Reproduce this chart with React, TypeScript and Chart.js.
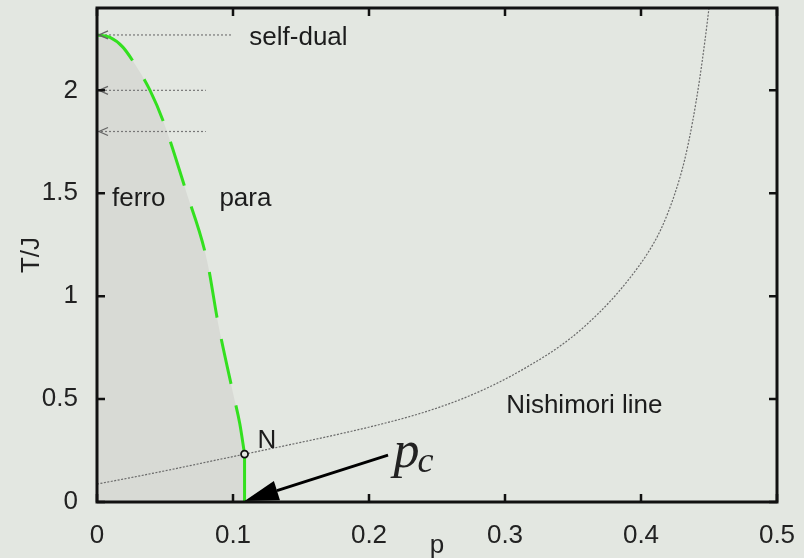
import React, { useEffect, useRef } from "react";
import { Chart, registerables } from "chart.js";

Chart.register(...registerables);

// ---- data ----
const xTicks = [0, 0.1, 0.2, 0.3, 0.4, 0.5];
const yTicks = [0, 0.5, 1, 1.5, 2];

// ferro/para phase boundary
const boundaryP = [0, 0.0096, 0.019, 0.027, 0.039, 0.049, 0.065, 0.081, 0.089, 0.1, 0.105, 0.1085];
const boundaryT = [2.269, 2.257, 2.21, 2.136, 2.0, 1.845, 1.52, 1.17, 0.87, 0.53, 0.38, 0.233];
// vertical part below the Nishimori point
const verticalP = [0.1085, 0.1085];
const verticalT = [0.233, 0];

// Nishimori line
const nishP = [0, 0.03, 0.06, 0.085, 0.109, 0.15, 0.18, 0.21, 0.24, 0.268, 0.292, 0.316, 0.341, 0.358, 0.378, 0.392, 0.405, 0.415, 0.425, 0.432, 0.438, 0.443, 0.447, 0.45];
const nishT = [0.087, 0.125, 0.165, 0.2, 0.233, 0.29, 0.333, 0.38, 0.435, 0.5, 0.57, 0.655, 0.76, 0.85, 0.98, 1.09, 1.21, 1.33, 1.5, 1.66, 1.85, 2.05, 2.24, 2.4];

// self-dual arrows (horizontal dotted lines with arrowheads at p = 0)
const arrowLevels = [2.269, 2.0, 1.8];
const arrowEnds = [0.1, 0.08, 0.08];

// Nishimori point N
const nPointP = [0.1085];
const nPointT = [0.233];

// text labels
const labelTexts = ["ferro", "para", "self-dual", "N", "Nishimori line"];
const labelP = [0.011, 0.09, 0.112, 0.118, 0.301];
const labelT = [1.44, 1.44, 2.218, 0.262, 0.43];

// p_c arrow (tail -> tip) and label
const pcArrowP = [0.214, 0.1085];
const pcArrowT = [0.228, 0.005];
const pcLabelP = 0.218;
const pcLabelT = 0.17;

const BG = "#e3e7e1";
const FILL = "#d8dad5";
const GREEN = "#33e01f";
const INK = "#1c1c1c";
const FONT = "'Liberation Sans', Arial, sans-serif";

const pts = (xs: number[], ys: number[]) => xs.map((x, i) => ({ x, y: ys[i] }));

const decorPlugin = {
  id: "decor",
  beforeDraw(chart: any) {
    const { ctx, width, height } = chart;
    ctx.save();
    ctx.fillStyle = BG;
    ctx.fillRect(0, 0, width, height);
    ctx.restore();
  },
  afterDatasetsDraw(chart: any) {
    const { ctx, chartArea: a, scales } = chart;
    const xs = scales.x;
    const ys = scales.y;
    ctx.save();

    // self-dual arrowheads (open chevrons)
    ctx.strokeStyle = "#666";
    ctx.lineWidth = 1.3;
    arrowLevels.forEach((lv) => {
      const x0 = xs.getPixelForValue(0);
      const y0 = ys.getPixelForValue(lv);
      ctx.beginPath();
      ctx.moveTo(x0 + 11, y0 - 4);
      ctx.lineTo(x0 + 2, y0);
      ctx.lineTo(x0 + 11, y0 + 4);
      ctx.stroke();
    });

    // p_c arrow
    const tx = xs.getPixelForValue(pcArrowP[0]);
    const ty = ys.getPixelForValue(pcArrowT[0]);
    const hx = xs.getPixelForValue(pcArrowP[1]);
    const hy = ys.getPixelForValue(pcArrowT[1]);
    const ang = Math.atan2(hy - ty, hx - tx);
    const headLen = 34;
    const headHalf = 10;
    const bx = hx - headLen * Math.cos(ang);
    const by = hy - headLen * Math.sin(ang);
    ctx.strokeStyle = "#000";
    ctx.lineWidth = 2.8;
    ctx.beginPath();
    ctx.moveTo(tx, ty);
    ctx.lineTo(bx, by);
    ctx.stroke();
    ctx.fillStyle = "#000";
    ctx.beginPath();
    ctx.moveTo(hx, hy);
    ctx.lineTo(bx + headHalf * Math.sin(ang), by - headHalf * Math.cos(ang));
    ctx.lineTo(bx - headHalf * Math.sin(ang), by + headHalf * Math.cos(ang));
    ctx.closePath();
    ctx.fill();

    // frame
    ctx.strokeStyle = "#111";
    ctx.lineWidth = 3;
    ctx.strokeRect(a.left, a.top, a.right - a.left, a.bottom - a.top);

    // inward ticks on all sides
    ctx.lineWidth = 2.5;
    const tl = 8;
    xs.ticks.forEach((t: any) => {
      const px = xs.getPixelForValue(t.value);
      ctx.beginPath();
      ctx.moveTo(px, a.bottom);
      ctx.lineTo(px, a.bottom - tl);
      ctx.moveTo(px, a.top);
      ctx.lineTo(px, a.top + tl);
      ctx.stroke();
    });
    ys.ticks.forEach((t: any) => {
      const py = ys.getPixelForValue(t.value);
      ctx.beginPath();
      ctx.moveTo(a.left, py);
      ctx.lineTo(a.left + tl, py);
      ctx.moveTo(a.right, py);
      ctx.lineTo(a.right - tl, py);
      ctx.stroke();
    });

    // text labels
    ctx.fillStyle = INK;
    ctx.font = `26px ${FONT}`;
    ctx.textAlign = "left";
    ctx.textBaseline = "alphabetic";
    labelTexts.forEach((s, i) => {
      ctx.fillText(s, xs.getPixelForValue(labelP[i]), ys.getPixelForValue(labelT[i]));
    });

    // p_c label (math italic)
    const lx = xs.getPixelForValue(pcLabelP);
    const ly = ys.getPixelForValue(pcLabelT);
    ctx.fillStyle = "#222";
    ctx.font = `italic 52px 'Liberation Serif', 'DejaVu Serif', serif`;
    ctx.fillText("p", lx, ly);
    const pw = ctx.measureText("p").width;
    ctx.font = `italic 36px 'Liberation Serif', 'DejaVu Serif', serif`;
    ctx.fillText("c", lx + pw - 2, ly + 5);

    ctx.restore();
  },
};

export default function App() {
  const ref = useRef<HTMLCanvasElement | null>(null);

  useEffect(() => {
    if (!ref.current) return;
    const chart = new Chart(ref.current, {
      type: "scatter",
      data: {
        datasets: [
          {
            label: "N",
            data: pts(nPointP, nPointT),
            pointRadius: 3.5,
            pointBorderWidth: 1.8,
            pointBorderColor: "#111",
            pointBackgroundColor: BG,
            showLine: false,
          },
          {
            label: "boundary",
            data: pts(boundaryP, boundaryT),
            showLine: true,
            borderColor: GREEN,
            borderWidth: 3,
            borderDash: [46, 22],
            pointRadius: 0,
            cubicInterpolationMode: "monotone",
            fill: false,
          },
          {
            label: "vertical",
            data: pts(verticalP, verticalT),
            showLine: true,
            borderColor: GREEN,
            borderWidth: 3,
            pointRadius: 0,
            fill: false,
          },
          ...arrowLevels.map((lv, i) => ({
            label: "selfdual" + i,
            data: pts([0, arrowEnds[i]], [lv, lv]),
            showLine: true,
            borderColor: "#777",
            borderWidth: 1.2,
            borderDash: [2, 2],
            pointRadius: 0,
            fill: false,
          })),
          {
            label: "nishimori",
            data: pts(nishP, nishT),
            showLine: true,
            borderColor: "#6a6a6a",
            borderWidth: 1.2,
            borderDash: [2, 1.5],
            pointRadius: 0,
            cubicInterpolationMode: "monotone",
            fill: false,
          },
          {
            label: "ferro",
            data: pts(boundaryP.concat(verticalP.slice(1)), boundaryT.concat(verticalT.slice(1))),
            showLine: true,
            borderWidth: 0,
            borderColor: "rgba(0,0,0,0)",
            backgroundColor: FILL,
            pointRadius: 0,
            cubicInterpolationMode: "monotone",
            fill: "origin",
          },
        ],
      },
      options: {
        animation: false,
        responsive: false,
        layout: { padding: { top: 8, right: 27, left: 0, bottom: 0 } },
        plugins: { legend: { display: false }, tooltip: { enabled: false } },
        scales: {
          x: {
            type: "linear",
            min: 0,
            max: 0.5,
            afterBuildTicks: (s: any) => {
              s.ticks = xTicks.map((v) => ({ value: v }));
            },
            afterFit: (s: any) => {
              s.height = 56;
              s.paddingLeft = 0;
              s.paddingRight = 0;
            },
            grid: { display: false, drawTicks: false },
            border: { display: false },
            ticks: { color: "#222", font: { family: FONT, size: 26 }, padding: 18, maxRotation: 0, callback: (v: any) => String(v) },
            title: { display: true, text: "p", color: "#222", font: { family: FONT, size: 26 }, padding: { top: 0, bottom: -3 } },
          },
          y: {
            type: "linear",
            min: 0,
            max: 2.4,
            afterBuildTicks: (s: any) => {
              s.ticks = yTicks.map((v) => ({ value: v }));
            },
            afterFit: (s: any) => {
              s.width = 97;
              s.paddingTop = 0;
              s.paddingBottom = 0;
            },
            grid: { display: false, drawTicks: false },
            border: { display: false },
            ticks: { color: "#222", font: { family: FONT, size: 26 }, padding: 19, callback: (v: any) => String(v) },
            title: { display: true, text: "T/J", color: "#222", font: { family: FONT, size: 26 }, padding: { top: 16, bottom: 0 } },
          },
        },
      },
      plugins: [decorPlugin],
    });
    return () => chart.destroy();
  }, []);

  return (
    <div style={{ position: "fixed", left: 0, top: 0, width: 804, height: 558, background: BG }}>
      <canvas ref={ref} width={804} height={558} style={{ display: "block", width: 804, height: 558 }} />
    </div>
  );
}
